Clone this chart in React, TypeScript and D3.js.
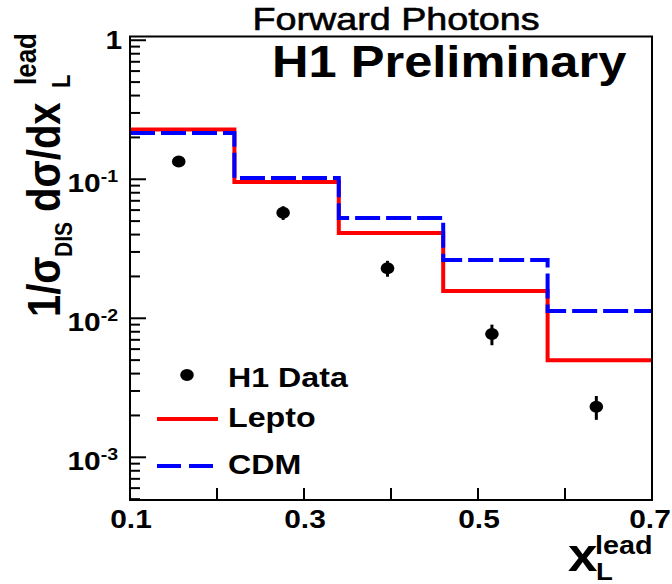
import React from "react";
import * as d3 from "d3";

// bin edges in x_L^lead and the two MC predictions per bin
const binEdges = [0.1, 0.22, 0.34, 0.46, 0.58, 0.7];
const leptoVals = [0.228, 0.0957, 0.041, 0.0157, 0.005];
const cdmVals = [0.215, 0.102, 0.0527, 0.0263, 0.0113];

// H1 data points
const dataX = [0.156, 0.276, 0.396, 0.516, 0.636];
const dataY = [0.134, 0.0575, 0.0229, 0.0077, 0.00231];
const dataErr = [0.006, 0.0065, 0.003, 0.0013, 0.00045];

const xTickVals = [0.1, 0.2, 0.3, 0.4, 0.5, 0.6, 0.7];
const xTickLabels = ["0.1", "0.3", "0.5", "0.7"];
const yMajor = [1, 0.1, 0.01, 0.001];
const yMajorLabels = ["1", "-1", "-2", "-3"];

const frame = { left: 130, right: 652, top: 36.5, bottom: 500 };
const SX = 1.15; // the whole picture is a bit wide
const font = "'Liberation Sans', Arial, Helvetica, sans-serif";

const App = () => {
  const x = d3.scaleLinear().domain([0.1, 0.7]).range([frame.left, frame.right]);
  const y = d3.scaleLog().domain([4.93e-4, 1.064]).range([frame.bottom, frame.top]);

  const step = d3
    .line<[number, number]>()
    .x((d) => x(d[0]))
    .y((d) => y(d[1]))
    .curve(d3.curveStepAfter);

  const stepPts = (vals: number[]) => {
    const pts: [number, number][] = vals.map((v, i) => [binEdges[i], v]);
    pts.push([binEdges[binEdges.length - 1], vals[vals.length - 1]]);
    return pts;
  };

  const yTicks = y.ticks();
  const isMajor = (t: number) => Math.abs(Math.log10(t) - Math.round(Math.log10(t))) < 1e-6;

  const txt = (
    tx: number,
    ty: number,
    s: string,
    size: number,
    anchor = "start",
    extra: any = {}
  ) => (
    <text
      transform={`translate(${tx},${ty}) scale(${SX},1)`}
      fontSize={size}
      fontWeight="bold"
      textAnchor={anchor}
      fontFamily={font}
      fill="#000"
      {...extra}
    >
      {s}
    </text>
  );

  return (
    <svg
      width={672}
      height={584}
      style={{ position: "absolute", left: 0, top: 0, background: "#fff" }}
    >
      <rect width={672} height={584} fill="#fff" />

      {/* title */}
      {txt(396, 30, "Forward Photons", 31, "middle", {
        fontWeight: "normal",
        stroke: "#000",
        strokeWidth: 0.6,
        textLength: 287 / SX,
        lengthAdjust: "spacingAndGlyphs",
      })}

      {/* y ticks */}
      <g stroke="#000" strokeWidth={2}>
        {yTicks.map((t, i) => (
          <line
            key={i}
            x1={frame.left}
            x2={frame.left + (isMajor(t) ? 16 : 10)}
            y1={y(t)}
            y2={y(t)}
          />
        ))}
        {xTickVals.map((t, i) => (
          <line key={i} x1={x(t)} x2={x(t)} y1={frame.bottom} y2={frame.bottom - 12} />
        ))}
      </g>

      {/* y labels */}
      {yMajor.map((t, i) =>
        i === 0 ? (
          <g key={i}>{txt(122, y(t) + 9, "1", 26, "end")}</g>
        ) : (
          <text
            key={i}
            transform={`translate(118,${y(t) + 13}) scale(${SX},1)`}
            fontSize={26}
            fontWeight="bold"
            textAnchor="end"
            fontFamily={font}
          >
            10
            <tspan fontSize={17} dy={-10}>
              {yMajorLabels[i]}
            </tspan>
          </text>
        )
      )}

      {/* x labels */}
      {xTickLabels.map((l, i) => (
        <g key={l}>{txt(i === 3 ? 650 : x(+l) + 1, 528, l, 26, "middle")}</g>
      ))}

      {/* MC histograms */}
      <path
        d={step(stepPts(leptoVals)) || ""}
        fill="none"
        stroke="#ff0000"
        strokeWidth={4}
      />
      <path
        d={step(stepPts(cdmVals)) || ""}
        fill="none"
        stroke="#0000ff"
        strokeWidth={4}
        strokeDasharray="25,6"
      />

      {/* data */}
      <g fill="#000" stroke="#000">
        {dataX.map((dx, i) => (
          <g key={i}>
            <line
              x1={x(dx)}
              x2={x(dx)}
              y1={y(dataY[i] - dataErr[i])}
              y2={y(dataY[i] + dataErr[i])}
              strokeWidth={3}
            />
            <ellipse cx={x(dx)} cy={y(dataY[i])} rx={6.8} ry={6} stroke="none" />
          </g>
        ))}
      </g>

      {/* frame */}
      <rect
        x={frame.left}
        y={frame.top}
        width={frame.right - frame.left}
        height={frame.bottom - frame.top}
        fill="none"
        stroke="#000"
        strokeWidth={2}
      />

      {/* H1 Preliminary */}
      {txt(272, 77, "H1 Preliminary", 44)}

      {/* legend */}
      <ellipse cx={187} cy={375} rx={6.8} ry={6} fill="#000" />
      {txt(228, 387, "H1 Data", 28)}
      <line x1={157} x2={218} y1={419} y2={419} stroke="#ff0000" strokeWidth={4} />
      {txt(228, 427, "Lepto", 28)}
      <line
        x1={157}
        x2={213}
        y1={466}
        y2={466}
        stroke="#0000ff"
        strokeWidth={4}
        strokeDasharray="24,8"
      />
      {txt(228, 474, "CDM", 28)}

      {/* x axis title */}
      {txt(568, 571, "x", 46)}
      {txt(595, 554, "lead", 25)}
      {txt(596, 580, "L", 24)}

      {/* y axis title */}
      <g
        transform={`translate(60,317) scale(${SX},1) rotate(-90)`}
        fontFamily={font}
        fontWeight="bold"
        fill="#000"
      >
        <text x={0} y={0} fontSize={40}>
          1/σ
        </text>
        <text x={60} y={10} fontSize={21}>
          DIS
        </text>
        <text x={105} y={0} fontSize={40}>
          dσ/dx
        </text>
        <text x={229} y={9} fontSize={22}>
          L
        </text>
        <text x={232} y={-21} fontSize={26}>
          lead
        </text>
      </g>
    </svg>
  );
};

export default App;
